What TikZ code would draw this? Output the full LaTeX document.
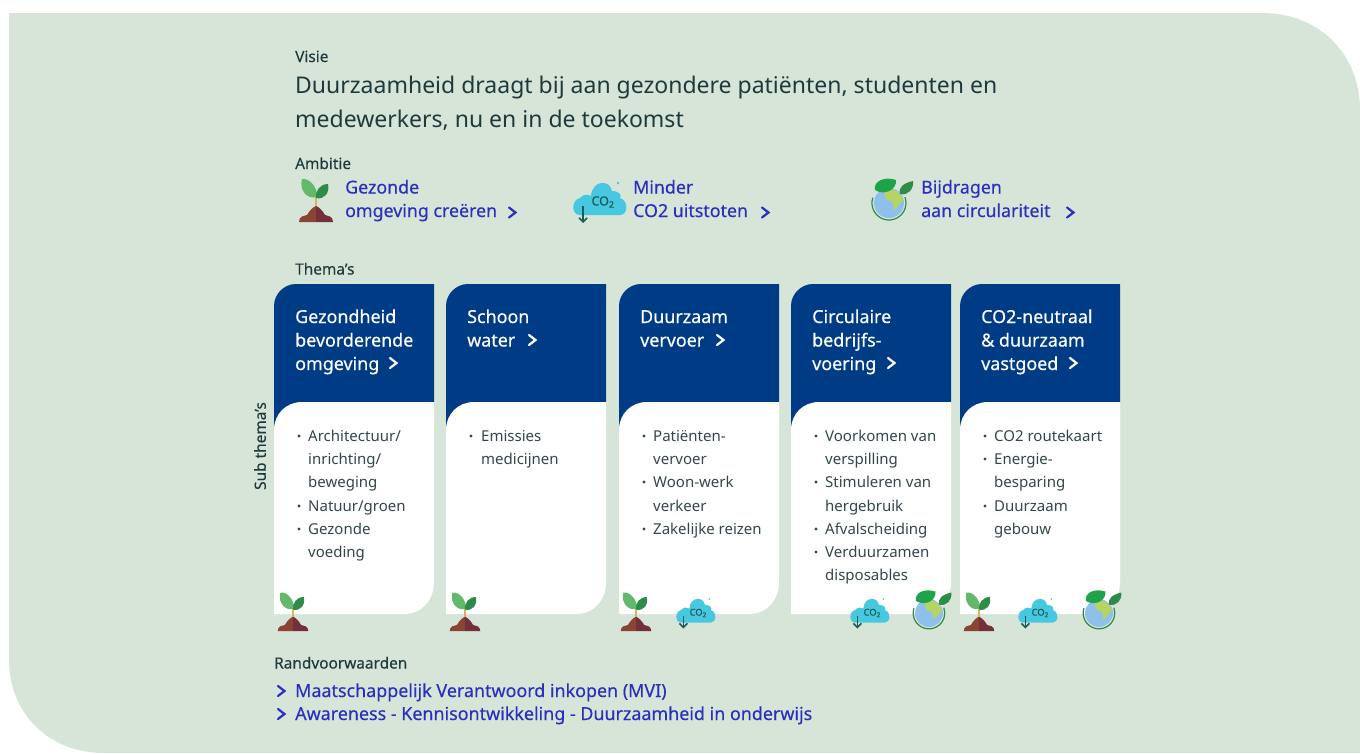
\documentclass[tikz,border=0pt]{standalone}
\usepackage{fontspec}
\setmainfont{Noto Sans}
\usetikzlibrary{arrows.meta}
\definecolor{bgg}{HTML}{D6E5D8}
\definecolor{navy}{HTML}{003B85}
\definecolor{ink}{HTML}{1F3A3D}
\definecolor{itemc}{HTML}{33474A}
\definecolor{lnk}{HTML}{2A2FBE}
\definecolor{leafg}{HTML}{62B96C}
\definecolor{leafd}{HTML}{2E8B4A}
\definecolor{leafb}{HTML}{1FA34A}
\definecolor{soil}{HTML}{8A4433}
\definecolor{soild}{HTML}{74303A}
\definecolor{stem}{HTML}{E0B060}
\definecolor{cloudc}{HTML}{45C8E0}
\definecolor{earth}{HTML}{8FC0EC}
\definecolor{land}{HTML}{B5D463}
\definecolor{arrowc}{HTML}{1C5A56}
\newcommand{\medw}{\addfontfeatures{FakeBold=0.3}}
\newcommand{\lblw}{\addfontfeatures{FakeBold=0.2}}
\tikzset{
 x=1pt,y=-1pt,
 lbl/.style={inner sep=0,anchor=base west,text=ink,font=\fontsize{15.4}{18}\selectfont\lblw},
 vis/.style={inner sep=0,anchor=base west,text=ink,font=\fontsize{23}{33.5}\selectfont,align=left},
 amb/.style={inner sep=0,anchor=base west,text=lnk,font=\fontsize{17.8}{23.5}\selectfont\medw,align=left},
 rnd/.style={inner sep=0,anchor=base west,text=lnk,font=\fontsize{17.9}{23}\selectfont\medw},
 head/.style={inner sep=0,anchor=base west,text=white,font=\fontsize{17.9}{23.5}\selectfont\medw,align=left},
 items/.style={inner sep=0,anchor=base west,text=itemc,font=\fontsize{15}{23.2}\selectfont,align=left},
 chev/.style={line width=2.2pt,line cap=round,line join=miter},
}
\newcommand{\chv}[3]{\draw[chev,#3] (#1-4,#2-5) -- (#1+2.5,#2) -- (#1-4,#2+5);}
\newcommand{\plant}[3]{\begin{scope}[shift={(#1,#2)},scale=#3]
 \fill[stem] (-1.4,-9) rectangle (1.4,6);
 \fill[soil] (-17,18) .. controls (-17,12) and (-12,12) .. (-9,11) .. controls (-6,6) and (-3,3) .. (0,2) -- (0,18) -- cycle;
 \fill[soild] (17,18) .. controls (17,12) and (12,12) .. (9,11) .. controls (6,6) and (3,3) .. (0,2) -- (0,18) -- cycle;
 \fill[leafg] (1,-7) .. controls (2,-16) and (-6,-26) .. (-14,-25) .. controls (-17,-14) and (-9,-4) .. (1,-7) -- cycle;
 \fill[leafd] (0,-6) .. controls (-1,-13) and (4,-20) .. (12,-20) .. controls (14,-11) and (8,-4) .. (0,-6) -- cycle;
\end{scope}}
\newcommand{\cloudico}[3]{\begin{scope}[shift={(#1,#2)},scale=#3]
 \pgfmathsetmacro{\cofs}{#3*12.5}
 \fill[cloudc] (-20,15) .. controls (-29,15) and (-29,0) .. (-20,-2) .. controls (-17,-6) and (-12,-6) .. (-9,-4) .. controls (-8,-20) and (10,-21) .. (12,-9) .. controls (20,-9) and (22,-4) .. (20,-2) .. controls (29,1) and (28,15) .. (20,15) -- cycle;
 \node[inner sep=0,text=arrowc,font=\fontsize{\cofs}{12}\selectfont\medw] (co) at (3,2) {CO\textsubscript{2}};
 \draw[arrowc,line width=1.6pt,-{Straight Barb[length=4pt]}] (-17,6) -- (-17,23);
 \fill[cloudc] (18,-17) circle (1.3);
\end{scope}}
\newcommand{\globe}[3]{\begin{scope}[shift={(#1,#2)},scale=#3]
 \fill[earth] (0,0) circle (15);
 \draw[leafd,line width=1.2pt] (-16.2,-5.25) arc[start angle=198,end angle=-20,radius=17];
 \fill[land] (-4,-13) .. controls (4,-16) and (12,-10) .. (14,-3) .. controls (11,0) and (9,4) .. (5,7) .. controls (3,2) and (5,-2) .. (1,-2) .. controls (-3,-2) and (-6,-8) .. (-4,-13) -- cycle;
 \fill[leafb] (-14,-13) .. controls (-16,-22) and (-4,-27) .. (7,-23) .. controls (8,-13) and (-5,-7) .. (-14,-13) -- cycle;
 \fill[leafd] (11,-9) .. controls (9,-16) and (15,-20) .. (24,-22) .. controls (25,-14) and (19,-7) .. (11,-9) -- cycle;
\end{scope}}
\begin{document}
\begin{tikzpicture}
\useasboundingbox (0,0) rectangle (1360,753);
\fill[white] (0,0) rectangle (1360,753);
\fill[bgg] (9,13) -- (1262,13) .. controls (1320,13) and (1360,55) .. (1360,110) -- (1360,753) -- (105,753) .. controls (45,753) and (9,710) .. (9,660) -- cycle;
\node[lbl] (visie) at (295,62) {Visie};
\node[vis] (vistxt) at (295,127) {Duurzaamheid draagt bij aan gezondere patiënten, studenten en\\medewerkers, nu en in de toekomst};
\node[lbl] (ambitie) at (295,169) {Ambitie};
\node[amb] (a1) at (345,217) {Gezonde\\omgeving creëren};
\node[amb] (a2) at (633,217) {Minder\\CO2 uitstoten};
\node[amb] (a3) at (921,217) {Bijdragen\\aan circulariteit};
\chv{513}{212.5}{lnk}\chv{766}{212.5}{lnk}\chv{1071}{212.5}{lnk}
\plant{316}{204}{1}
\cloudico{600}{200}{1}
\globe{889}{203}{1}
\node[lbl] (themas) at (295,274.5) {Thema's};
\node[lbl,anchor=center,rotate=90] (sub) at (260,446) {Sub thema's};
\foreach \cx in {274,446,619,791,960}{
 \fill[navy] (\cx,430) -- (\cx,306) .. controls (\cx,294) and (\cx+10,284) .. (\cx+22,284) -- (\cx+160,284) -- (\cx+160,402) -- (\cx+30,402) -- cycle;
 \fill[white] (\cx,614) -- (\cx,430) .. controls (\cx,414) and (\cx+12,402) .. (\cx+28,402) -- (\cx+160,402) -- (\cx+160,582) .. controls (\cx+160,600) and (\cx+148,614) .. (\cx+130,614) -- cycle;
}
\node[head] (h1) at (295,370) {Gezondheid\\bevorderende\\omgeving};
\node[head] (h2) at (467,346.5) {Schoon\\water};
\node[head] (h3) at (640,346.5) {Duurzaam\\vervoer};
\node[head] (h4) at (812,370) {Circulaire\\bedrijfs-\\voering};
\node[head] (h5) at (981,370) {CO2-neutraal\\\& duurzaam\\vastgoed};
\chv{394}{363}{white}\chv{533}{340}{white}\chv{721}{340}{white}\chv{892}{363}{white}\chv{1074}{363}{white}
\node[items] (i1) at (308,557.5) {Architectuur/\\inrichting/\\beweging\\Natuur/groen\\Gezonde\\voeding};
\node[items] (i2) at (481,464.7) {Emissies\\medicijnen};
\node[items] (i3) at (653,534.3) {Patiënten-\\vervoer\\Woon-werk\\verkeer\\Zakelijke reizen};
\node[items] (i4) at (825,580.7) {Voorkomen van\\verspilling\\Stimuleren van\\hergebruik\\Afvalscheiding\\Verduurzamen\\disposables};
\node[items] (i5) at (994,534.3) {CO2 routekaart\\Energie-\\besparing\\Duurzaam\\gebouw};
\foreach \bx/\by in {299/436,299/506,299/529,471/436,644/436,644/482,644/529,816/436,816/482,816/529,816/552,985/436,985/459,985/506}{\fill[itemc] (\bx,\by) circle (1.6);}
\plant{293}{615}{0.9}\plant{465}{615}{0.9}\plant{636}{615}{0.9}\plant{979}{615}{0.9}
\cloudico{696}{611.5}{0.74}\cloudico{870}{611.5}{0.74}\cloudico{1038}{611.5}{0.74}
\globe{929}{613}{0.93}\globe{1099}{613}{0.93}
\node[lbl] (rand) at (274,668.5) {Randvoorwaarden};
\node[rnd] (r1) at (295,697) {Maatschappelijk Verantwoord inkopen (MVI)};
\node[rnd] (r2) at (295,720) {Awareness - Kennisontwikkeling - Duurzaamheid in onderwijs};
\chv{282}{691}{lnk}\chv{282}{714}{lnk}
\end{tikzpicture}
\end{document}
